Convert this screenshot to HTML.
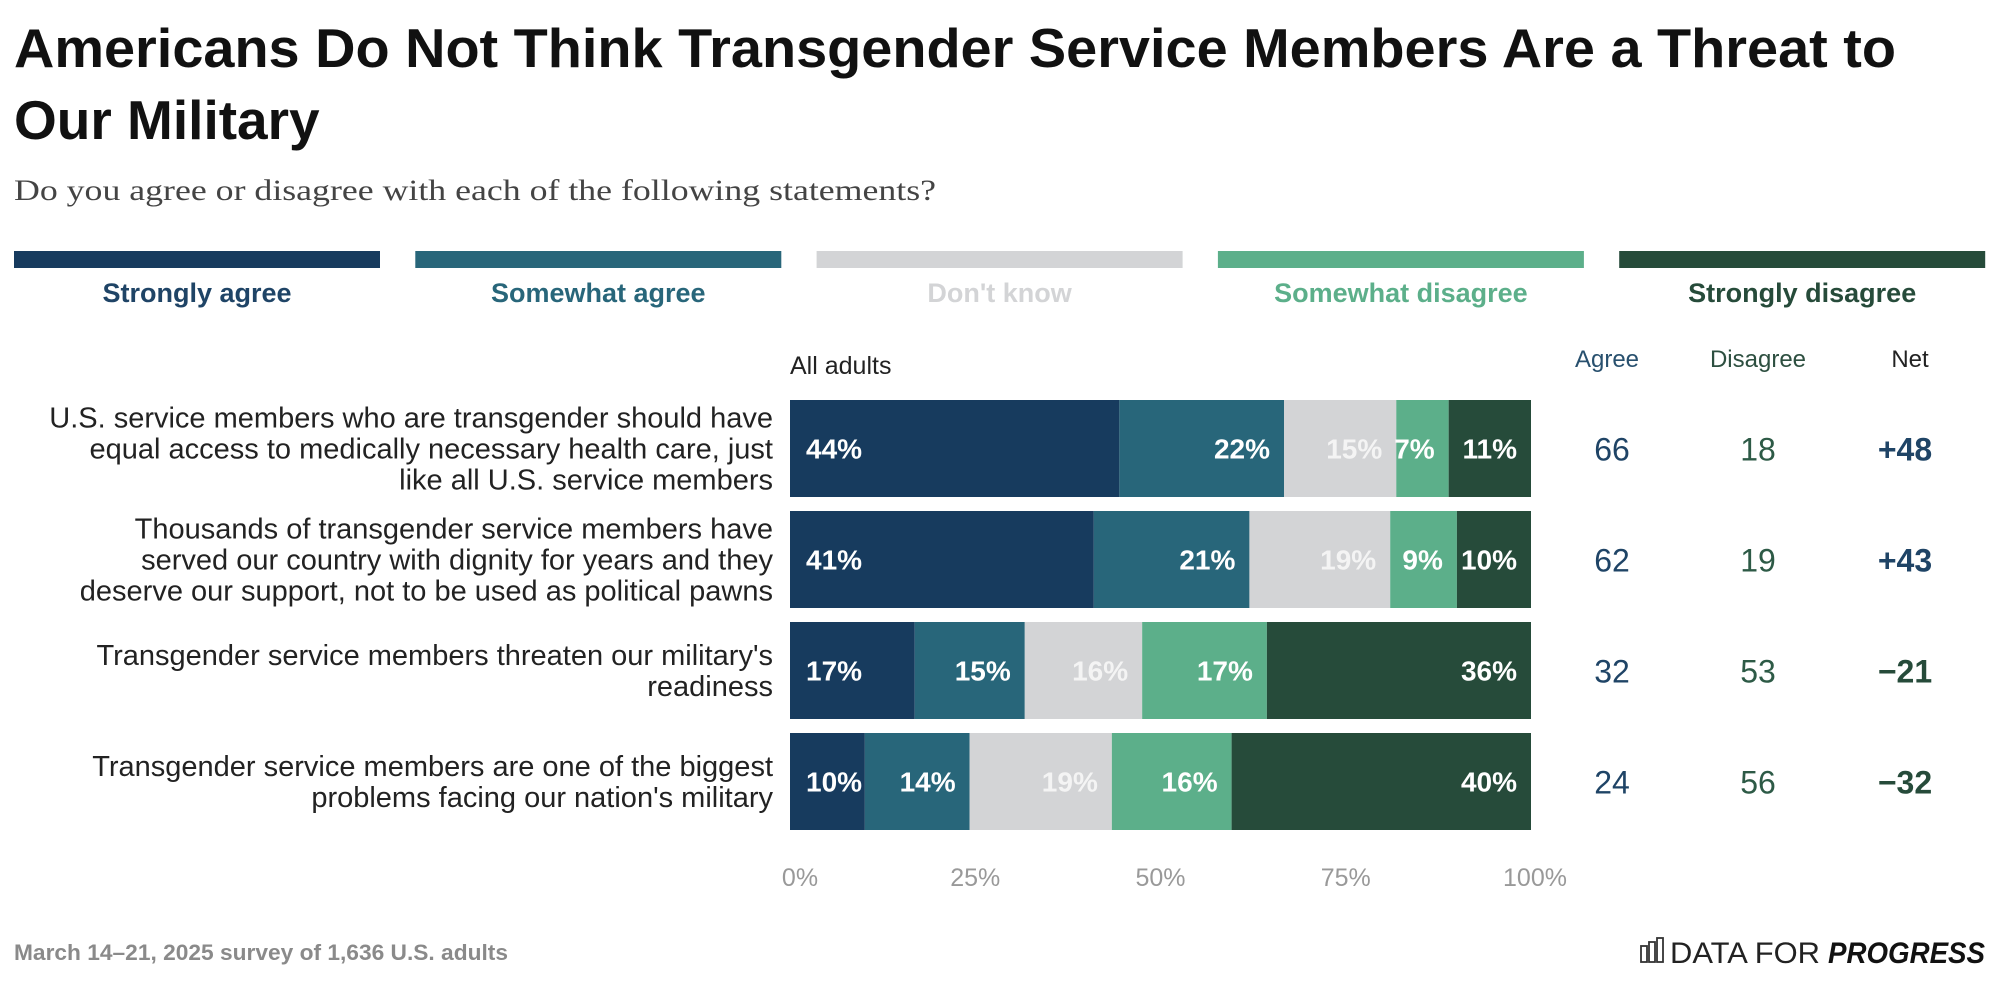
<!DOCTYPE html>
<html><head><meta charset="utf-8">
<style>
body{margin:0;background:#fff;width:1999px;height:982px;overflow:hidden;font-family:"Liberation Sans",sans-serif;}
svg{display:block}
</style></head>
<body>
<svg id="chart" width="1999" height="982" xmlns="http://www.w3.org/2000/svg">
<text x="14" y="67" font-size="55" font-weight="bold" fill="#111" textLength="1882" lengthAdjust="spacingAndGlyphs">Americans Do Not Think Transgender Service Members Are a Threat to</text>
<text x="14" y="139" font-size="55" font-weight="bold" fill="#111">Our Military</text>
<text x="14" y="200" font-size="30" font-family="Liberation Serif, serif" fill="#444" textLength="922" lengthAdjust="spacingAndGlyphs">Do you agree or disagree with each of the following statements?</text>
<g id="legend"></g>
<text x="790" y="374" font-size="25" fill="#222">All adults</text>
<text x="1607" y="367" font-size="24" fill="#28506e" text-anchor="middle">Agree</text>
<text x="1758" y="367" font-size="24" fill="#2d4f40" text-anchor="middle">Disagree</text>
<text x="1910" y="367" font-size="24" fill="#222" text-anchor="middle">Net</text>
<g id="rows"></g>
<g id="axis"></g>
<text x="14" y="960" font-size="22" font-weight="bold" fill="#8a8a8a" textLength="494" lengthAdjust="spacingAndGlyphs">March 14–21, 2025 survey of 1,636 U.S. adults</text>
<g>
<g fill="none" stroke="#333" stroke-width="1.8"><rect x="1641" y="946" width="6" height="16"/><rect x="1649" y="942" width="6" height="20"/><rect x="1657" y="938" width="6" height="24"/></g>
<text x="1670" y="963" font-size="30" fill="#222" textLength="150" lengthAdjust="spacingAndGlyphs">DATA FOR</text>
<text x="1828" y="963" font-size="30" font-weight="bold" font-style="italic" fill="#111" textLength="157" lengthAdjust="spacingAndGlyphs">PROGRESS</text>
</g>
</svg>
<script>
const categories = ["Strongly agree","Somewhat agree","Don't know","Somewhat disagree","Strongly disagree"];
const colors = ["#173b5e","#28667a","#d3d4d6","#5caf8a","#264b3a"];
const legendText = ["#1f4466","#28667a","#d3d4d6","#5caf8a","#264b3a"];
const statements = [
 ["U.S. service members who are transgender should have","equal access to medically necessary health care, just","like all U.S. service members"],
 ["Thousands of transgender service members have","served our country with dignity for years and they","deserve our support, not to be used as political pawns"],
 ["Transgender service members threaten our military's","readiness"],
 ["Transgender service members are one of the biggest","problems facing our nation's military"]
];
const stronglyAgree = [44,41,17,10];
const somewhatAgree = [22,21,15,14];
const dontKnow = [15,19,16,19];
const somewhatDisagree = [7,9,17,16];
const stronglyDisagree = [11,10,36,40];
const agreeTotals = [66,62,32,24];
const disagreeTotals = [18,19,53,56];
const netValues = ["+48","+43","\u221221","\u221232"];
const tickValues = [0,25,50,75,100];

const NS="http://www.w3.org/2000/svg";
const X0=790,X1=1531;
const xScale=v=>X0+(X1-X0)*v/100;
const rowTop=i=>400+i*111, rowH=97;
function mk(tag,attrs,parent){const e=document.createElementNS(NS,tag);for(const k in attrs)e.setAttribute(k,attrs[k]);parent.appendChild(e);return e;}

const leg=document.getElementById('legend');
categories.forEach((c,i)=>{
 const x=14+i*401.3;
 const r=mk('rect',{x:x,y:251,width:366,height:17,fill:colors[i]},leg);
 
 
 const t=mk('text',{x:x+183,y:302,'font-size':27,'font-weight':'bold',fill:legendText[i],'text-anchor':'middle'},leg);
 t.textContent=c;
 
 
});

const rows=document.getElementById('rows');
const series=[stronglyAgree,somewhatAgree,dontKnow,somewhatDisagree,stronglyDisagree];
statements.forEach((lines,i)=>{
 const top=rowTop(i), mid=top+rowH/2;
 const n=lines.length, lh=31;
 lines.forEach((l,j)=>{
  const t=mk('text',{x:773,y:mid+10+(j-(n-1)/2)*lh,'font-size':29,fill:'#222','text-anchor':'end'},rows);
  t.textContent=l;
  
  
 });
 const total=series.reduce((s,a)=>s+a[i],0);
 let cum=0;
 series.forEach((arr,k)=>{
  const v=arr[i];
  const xa=xScale(cum/total*100), xb=xScale((cum+v)/total*100);
  cum+=v;
  const r=mk('rect',{x:xa,y:top,width:xb-xa,height:rowH,fill:colors[k]},rows);
  
  
  const t=mk('text',{x:k===0?xa+16:xb-14,y:mid+10,'font-size':28,'font-weight':'bold',fill:k===2?'#f4f4f4':'#fff','text-anchor':k===0?'start':'end'},rows);
  t.textContent=v+'%';
  
  
 });
 const a=mk('text',{x:1612,y:mid+12,'font-size':32,fill:'#1f4466','text-anchor':'middle'},rows);
 a.textContent=agreeTotals[i];
 
 
 const d=mk('text',{x:1758,y:mid+12,'font-size':32,fill:'#2d5a46','text-anchor':'middle'},rows);
 d.textContent=disagreeTotals[i];
 
 
 const nt=mk('text',{x:1905,y:mid+12,'font-size':32,'font-weight':'bold',fill:i<2?'#1f4466':'#264b3a','text-anchor':'middle'},rows);
 nt.textContent=netValues[i];
 
 
});

const ax=document.getElementById('axis');
tickValues.forEach(v=>{
 const t=mk('text',{x:xScale(v)+(v===0?10:(v===100?4:0)),y:886,'font-size':25,fill:'#999','text-anchor':'middle'},ax);
 t.textContent=v+'%';
 
 
});
</script>
</body></html>
